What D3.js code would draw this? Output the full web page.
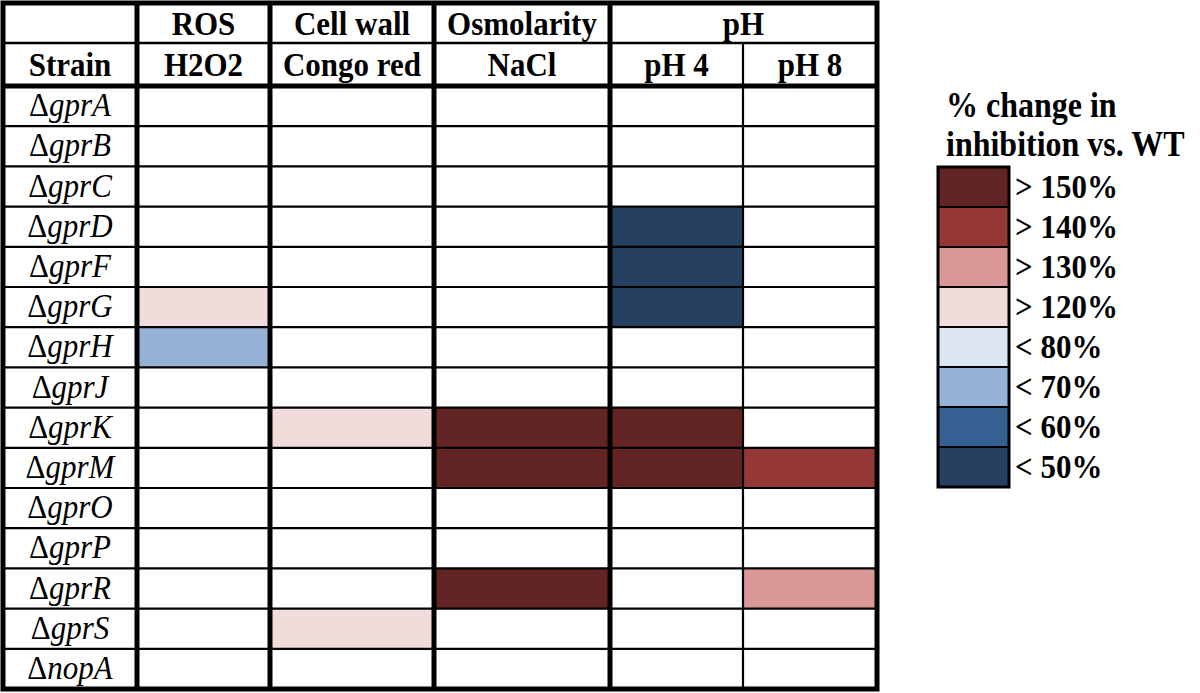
<!DOCTYPE html>
<html>
<head>
<meta charset="utf-8">
<script src="https://cdn.jsdelivr.net/npm/d3@7"></script>
<style>
  body { margin: 0; background: #fff; }
</style>
</head>
<body>
<div id="chart"></div>
<script>
// data
var strains = ["gprA", "gprB", "gprC", "gprD", "gprF", "gprG", "gprH", "gprJ",
               "gprK", "gprM", "gprO", "gprP", "gprR", "gprS", "nopA"];
var groups = ["ROS", "Cell wall", "Osmolarity", "pH"];
var conditions = ["H2O2", "Congo red", "NaCl", "pH 4", "pH 8"];
var conditionGroup = ["ROS", "Cell wall", "Osmolarity", "pH", "pH"];
var levels = ["> 150%", "> 140%", "> 130%", "> 120%", "< 80%", "< 70%", "< 60%", "< 50%"];
var levelColours = ["#632523", "#953735", "#d99795", "#f2dcdb", "#dce6f2", "#95b3d7", "#376092", "#254061"];
// [strain, condition, level]
var cells = [
  ["gprG", "H2O2", "> 120%"],
  ["gprH", "H2O2", "< 70%"],
  ["gprK", "Congo red", "> 120%"],
  ["gprS", "Congo red", "> 120%"],
  ["gprK", "NaCl", "> 150%"],
  ["gprM", "NaCl", "> 150%"],
  ["gprR", "NaCl", "> 150%"],
  ["gprD", "pH 4", "< 50%"],
  ["gprF", "pH 4", "< 50%"],
  ["gprG", "pH 4", "< 50%"],
  ["gprK", "pH 4", "> 150%"],
  ["gprM", "pH 4", "> 150%"],
  ["gprM", "pH 8", "> 140%"],
  ["gprR", "pH 8", "> 130%"]
];

var w = 1200, h = 693;
var tLeft = 3, tRight = 877, tTop = 3, tBottom = 689;
var headMid = 43, headBottom = 86;
var stretch = 1.1;  // glyphs in the original are a bit taller than wide
var serif = "'Liberation Serif', 'Times New Roman', Times, 'DejaVu Serif', serif";

var svg = d3.select("#chart").append("svg")
  .attr("width", w).attr("height", h)
  .attr("font-family", serif);

function place(x, y) {
  return "translate(" + x + "," + y + ") scale(1," + stretch + ")";
}

// column edges (strain column first)
var colEdges = d3.scaleOrdinal()
  .domain(["Strain"].concat(conditions))
  .range([[tLeft, 137], [137, 270], [270, 434], [434, 610], [610, 743], [743, tRight]]);

var y = d3.scaleBand()
  .domain(strains)
  .range([headBottom, tBottom])
  .padding(0);

var colour = d3.scaleOrdinal()
  .domain(levels)
  .range(levelColours);

// coloured cells
svg.selectAll("rect.cell")
  .data(cells)
  .enter()
  .append("rect")
  .attr("class", "cell")
  .attr("x", function(d) { return colEdges(d[1])[0]; })
  .attr("y", function(d) { return y(d[0]); })
  .attr("width", function(d) { var e = colEdges(d[1]); return e[1] - e[0]; })
  .attr("height", y.bandwidth())
  .attr("fill", function(d) { return colour(d[2]); });

// thin row lines
svg.selectAll("line.row")
  .data(strains.slice(1))
  .enter()
  .append("line")
  .attr("x1", tLeft).attr("x2", tRight)
  .attr("y1", function(d) { return y(d); })
  .attr("y2", function(d) { return y(d); })
  .attr("stroke", "#000").attr("stroke-width", 2.2);

// thin line between header rows
svg.append("line")
  .attr("x1", tLeft).attr("x2", tRight)
  .attr("y1", headMid).attr("y2", headMid)
  .attr("stroke", "#000").attr("stroke-width", 2.5);

// thin line between pH 4 and pH 8
svg.append("line")
  .attr("x1", colEdges("pH 8")[0]).attr("x2", colEdges("pH 8")[0])
  .attr("y1", headMid).attr("y2", tBottom)
  .attr("stroke", "#000").attr("stroke-width", 2.2);

// thick group separators
var thickX = [colEdges("H2O2")[0], colEdges("Congo red")[0], colEdges("NaCl")[0], colEdges("pH 4")[0]];
svg.selectAll("line.thick")
  .data(thickX)
  .enter()
  .append("line")
  .attr("x1", function(d) { return d; }).attr("x2", function(d) { return d; })
  .attr("y1", tTop).attr("y2", tBottom)
  .attr("stroke", "#000").attr("stroke-width", 5);

svg.append("line")
  .attr("x1", tLeft).attr("x2", tRight)
  .attr("y1", headBottom).attr("y2", headBottom)
  .attr("stroke", "#000").attr("stroke-width", 5);

svg.append("rect")
  .attr("x", tLeft).attr("y", tTop)
  .attr("width", tRight - tLeft).attr("height", tBottom - tTop)
  .attr("fill", "none").attr("stroke", "#000").attr("stroke-width", 5);

// header row 1: groups
var groupSpan = groups.map(function(g) {
  var cs = conditions.filter(function(c, i) { return conditionGroup[i] === g; });
  return { name: g, x0: colEdges(cs[0])[0], x1: colEdges(cs[cs.length - 1])[1] };
});

svg.selectAll("text.group")
  .data(groupSpan)
  .enter()
  .append("text")
  .attr("transform", function(d) { return place((d.x0 + d.x1) / 2, 35); })
  .attr("text-anchor", "middle")
  .style("font-size", "31px")
  .style("font-weight", "bold")
  .text(function(d) { return d.name; });

// header row 2
svg.selectAll("text.cond")
  .data(["Strain"].concat(conditions))
  .enter()
  .append("text")
  .attr("transform", function(d) { var e = colEdges(d); return place((e[0] + e[1]) / 2, 76); })
  .attr("text-anchor", "middle")
  .style("font-size", "31px")
  .style("font-weight", "bold")
  .text(function(d) { return d; });

// strain labels
var labels = svg.selectAll("text.strain")
  .data(strains)
  .enter()
  .append("text")
  .attr("transform", function(d) { return place((tLeft + 137) / 2, y(d) + y.bandwidth() / 2 + 10); })
  .attr("text-anchor", "middle")
  .style("font-size", "31px");
labels.append("tspan").text("\u0394");
labels.append("tspan").style("font-style", "italic").text(function(d) { return d; });

// legend
var lx = 938, ly = 167, lw = 71, lh = 40;
svg.append("text")
  .attr("transform", place(946, 117))
  .style("font-size", "32px").style("font-weight", "bold")
  .text("% change in");
svg.append("text")
  .attr("transform", place(946, 156))
  .style("font-size", "32px").style("font-weight", "bold")
  .text("inhibition vs. WT");

var ly2 = d3.scaleBand().domain(levels).range([ly, ly + lh * levels.length]);

svg.selectAll("rect.leg")
  .data(levels)
  .enter()
  .append("rect")
  .attr("x", lx)
  .attr("y", function(d) { return ly2(d); })
  .attr("width", lw)
  .attr("height", ly2.bandwidth())
  .attr("fill", function(d) { return colour(d); })
  .attr("stroke", "#000").attr("stroke-width", 2);

svg.append("rect")
  .attr("x", lx).attr("y", ly)
  .attr("width", lw).attr("height", lh * levels.length)
  .attr("fill", "none").attr("stroke", "#000").attr("stroke-width", 3);

svg.selectAll("text.leg")
  .data(levels)
  .enter()
  .append("text")
  .attr("transform", function(d) { return place(1015, ly2(d) + ly2.bandwidth() / 2 + 11); })
  .style("font-size", "31px").style("font-weight", "bold")
  .text(function(d) { return d; });
</script>
</body>
</html>
